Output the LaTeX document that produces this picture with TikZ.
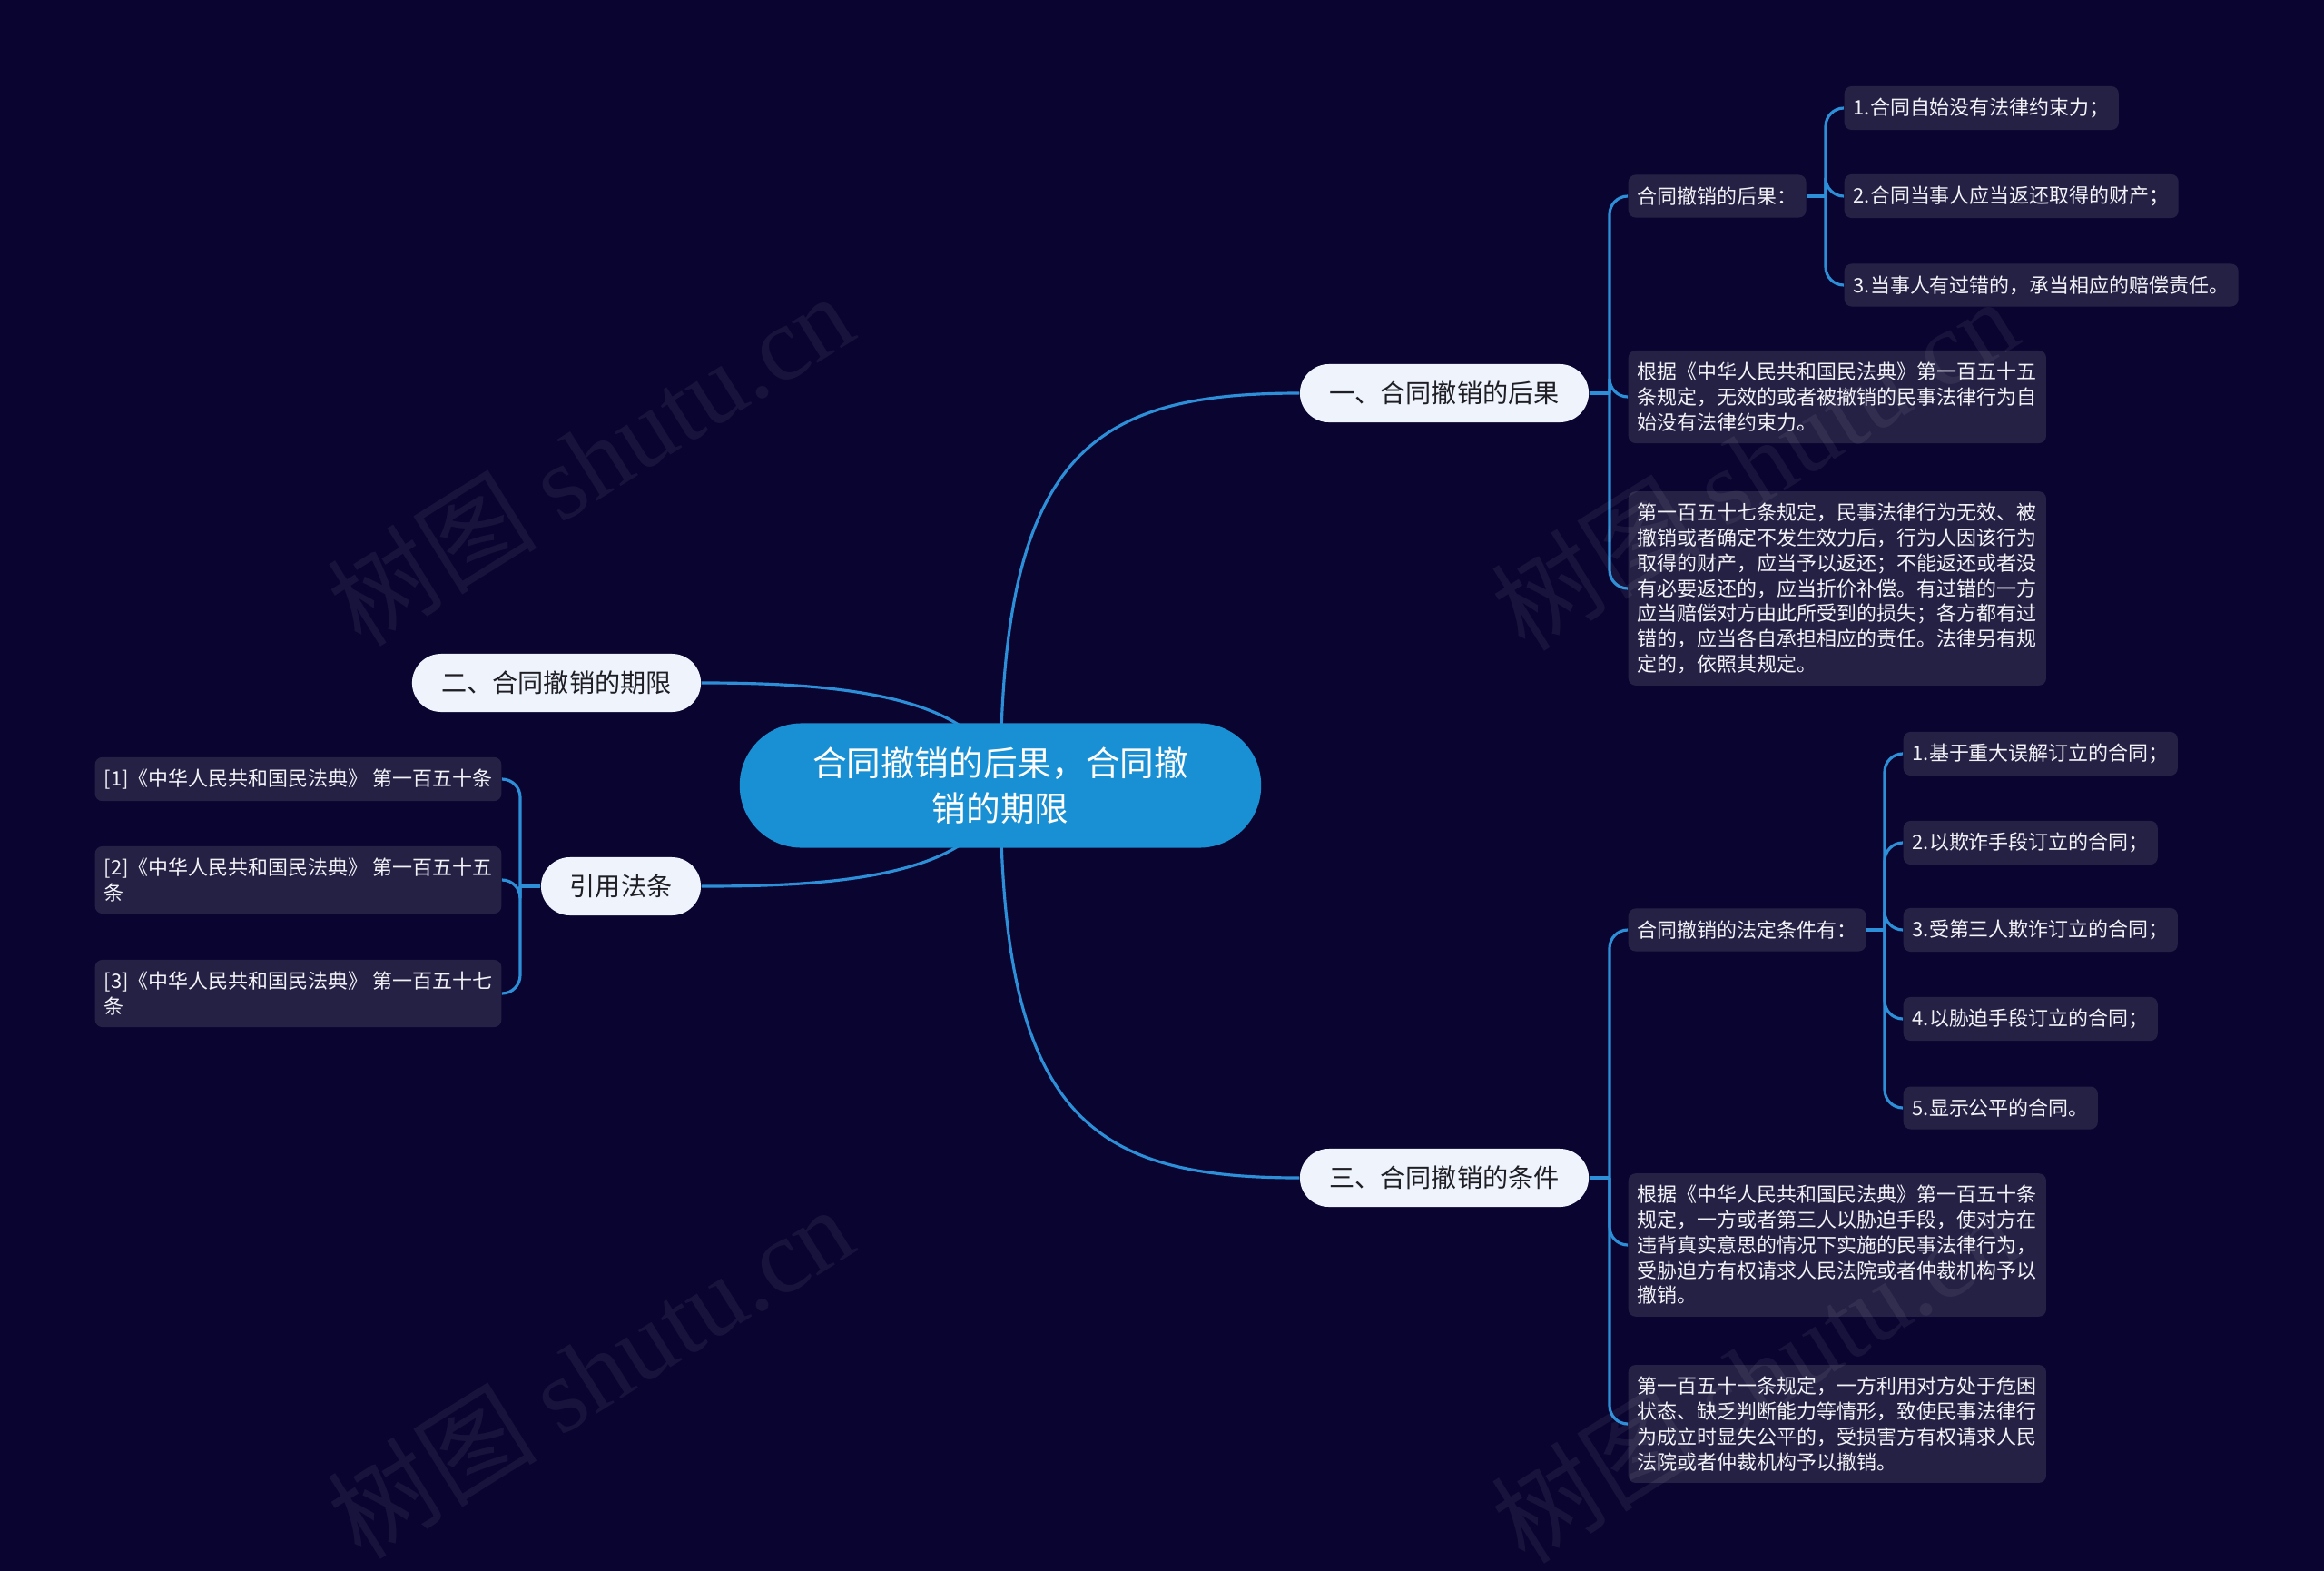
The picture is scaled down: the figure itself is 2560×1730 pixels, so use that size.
\documentclass[tikz,border=0pt]{standalone}
\usepackage{fontspec}
\setmainfont{Noto Sans CJK SC}
\newfontfamily\markfont{Liberation Serif}
\usepackage{tikz}
\usetikzlibrary{positioning,backgrounds}

\definecolor{navybg}{HTML}{0A0530}
\definecolor{rootblue}{HTML}{1A90D4}
\definecolor{topicbg}{HTML}{EEF3FC}
\definecolor{topictext}{HTML}{1E1E24}
\definecolor{leafbg}{HTML}{252145}
\definecolor{leaftext}{HTML}{F2F2F7}
\definecolor{linkblue}{HTML}{2D8FD8}

\begin{document}
\begin{tikzpicture}[x=0.01cm, y=-0.01cm,
  root/.style={fill=rootblue, text=white, rounded corners=0.68cm, minimum width=5.74cm, minimum height=1.37cm, align=center, font=\fontsize{10.7}{14.4}\selectfont},
  topic/.style={fill=topicbg, text=topictext, rounded corners=0.32cm, minimum width=3.18cm, minimum height=0.64cm, font=\fontsize{8}{10}\selectfont},
  leaf/.style={fill=leafbg, text=leaftext, rounded corners=0.08cm, inner xsep=0.1cm, inner ysep=0.13cm, minimum height=0.47cm, align=left, font=\fontsize{6.25}{7.9}\selectfont},
  para/.style={leaf, text width=4.4cm},
  link/.style={draw=linkblue, line width=0.9pt},
  branch/.style={link, rounded corners=0.2cm},
  wmark/.style={text=white, opacity=0.06, rotate=32, font=\fontsize{33}{36}\selectfont},
]
\useasboundingbox (0,0) rectangle (2560,1730);

% Background
\begin{scope}[on background layer]
\fill[navybg] (0,0) rectangle (2560,1730);
\end{scope}

% Centre
\node[root] (root) at (1102,865) {合同撤销的后果，合同撤\\销的期限};

% Main topics
\node[topic] (t1) at (1591,433) {一、合同撤销的后果};
\node[topic] (t2) at (613,752) {二、合同撤销的期限};
\node[topic] (t3) at (1591,1297) {三、合同撤销的条件};
\node[topic, minimum width=1.76cm] (t4) at (684,976) {引用法条};

% Topic one: consequences
\node[leaf, anchor=west] (r1) at (1793,216) {合同撤销的后果：};
\node[leaf, anchor=west] (r1a) at (2031,119) {1.合同自始没有法律约束力；};
\node[leaf, anchor=west] (r1b) at (2031,216) {2.合同当事人应当返还取得的财产；};
\node[leaf, anchor=west] (r1c) at (2031,314) {3.当事人有过错的，承当相应的赔偿责任。};
\node[para, anchor=west] (r2) at (1793,437) {根据《中华人民共和国民法典》第一百五十五\\条规定，无效的或者被撤销的民事法律行为自\\始没有法律约束力。};
\node[para, anchor=west] (r3) at (1793,648) {第一百五十七条规定，民事法律行为无效、被\\撤销或者确定不发生效力后，行为人因该行为\\取得的财产，应当予以返还；不能返还或者没\\有必要返还的，应当折价补偿。有过错的一方\\应当赔偿对方由此所受到的损失；各方都有过\\错的，应当各自承担相应的责任。法律另有规\\定的，依照其规定。};

% Topic three: conditions
\node[leaf, anchor=west] (s1) at (1793,1024) {合同撤销的法定条件有：};
\node[leaf, anchor=west] (s1a) at (2096,830) {1.基于重大误解订立的合同；};
\node[leaf, anchor=west] (s1b) at (2096,928) {2.以欺诈手段订立的合同；};
\node[leaf, anchor=west] (s1c) at (2096,1024) {3.受第三人欺诈订立的合同；};
\node[leaf, anchor=west] (s1d) at (2096,1122) {4.以胁迫手段订立的合同；};
\node[leaf, anchor=west] (s1e) at (2096,1220) {5.显示公平的合同。};
\node[para, anchor=west] (s2) at (1793,1371) {根据《中华人民共和国民法典》第一百五十条\\规定，一方或者第三人以胁迫手段，使对方在\\违背真实意思的情况下实施的民事法律行为，\\受胁迫方有权请求人民法院或者仲裁机构予以\\撤销。};
\node[para, anchor=west] (s3) at (1793,1568) {第一百五十一条规定，一方利用对方处于危困\\状态、缺乏判断能力等情形，致使民事法律行\\为成立时显失公平的，受损害方有权请求人民\\法院或者仲裁机构予以撤销。};

% Cited articles
\node[leaf, anchor=east] (c1) at (553,858) {[1]《中华人民共和国民法典》 第一百五十条};
\node[leaf, anchor=east] (c2) at (553,969) {[2]《中华人民共和国民法典》 第一百五十五\\条};
\node[leaf, anchor=east] (c3) at (553,1094) {[3]《中华人民共和国民法典》 第一百五十七\\条};

% Junctions
\coordinate (j1) at (1773,433);
\coordinate (j1r) at (2011,216);
\coordinate (j3) at (1773,1297);
\coordinate (j3s) at (2076,1024);
\coordinate (j4) at (573,976);

\begin{scope}[on background layer]
% root to topics
\draw[link] (root.center) .. controls (1102,500) and (1200,433) .. (t1.west);
\draw[link] (root.center) .. controls (1102,1230) and (1200,1297) .. (t3.west);
\draw[link] (root.center) .. controls (1090,760) and (900,752) .. (t2.east);
\draw[link] (root.center) .. controls (1090,970) and (900,976) .. (t4.east);

% topic one
\draw[link] (t1.east) -- (j1);
\draw[branch] (j1) |- (r1.west);
\draw[branch] (j1) |- (r2.west);
\draw[branch] (j1) |- (r3.west);
\draw[link] (r1.east) -- (j1r);
\draw[branch] (j1r) |- (r1a.west);
\draw[branch] (j1r) |- (r1b.west);
\draw[branch] (j1r) |- (r1c.west);

% topic three
\draw[link] (t3.east) -- (j3);
\draw[branch] (j3) |- (s1.west);
\draw[branch] (j3) |- (s2.west);
\draw[branch] (j3) |- (s3.west);
\draw[link] (s1.east) -- (j3s);
\draw[branch] (j3s) |- (s1a.west);
\draw[branch] (j3s) |- (s1b.west);
\draw[branch] (j3s) |- (s1c.west);
\draw[branch] (j3s) |- (s1d.west);
\draw[branch] (j3s) |- (s1e.west);

% cited articles
\draw[link] (t4.west) -- (j4);
\draw[branch] (j4) |- (c1.east);
\draw[branch] (j4) |- (c2.east);
\draw[branch] (j4) |- (c3.east);
\end{scope}

% Watermarks
\node[wmark] (w1) at (650,505) {树图 {\markfont shutu.cn}};
\node[wmark] (w2) at (650,1510) {树图 {\markfont shutu.cn}};
\node[wmark] (w3) at (1932,510) {树图 {\markfont shutu.cn}};
\node[wmark] (w4) at (1932,1515) {树图 {\markfont shutu.cn}};

\end{tikzpicture}
\end{document}
